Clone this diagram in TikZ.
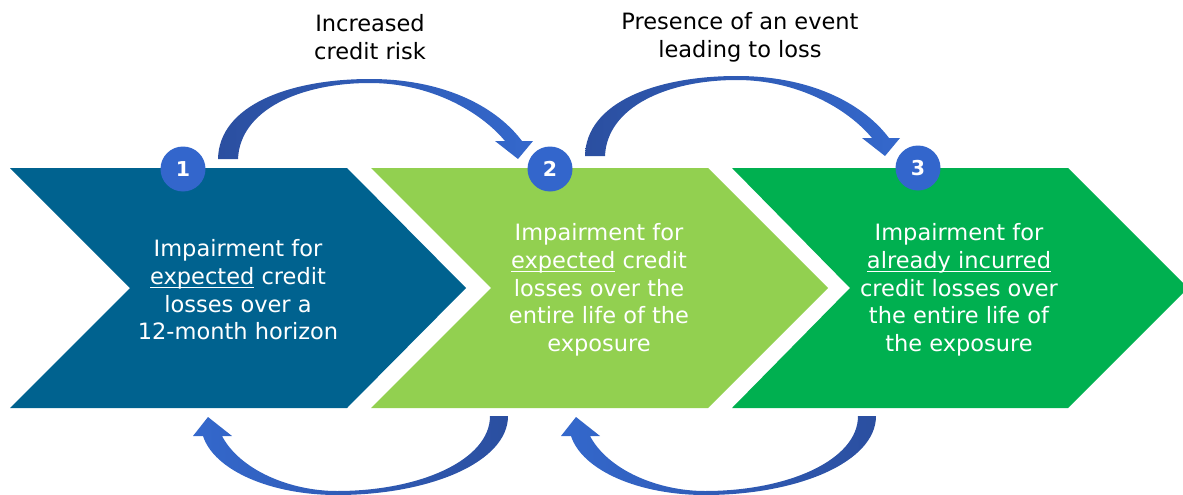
\documentclass[tikz,border=0pt]{standalone}
\usepackage{fontspec}
\setmainfont{DejaVu Sans}
\definecolor{cBlue}{HTML}{00628F}
\definecolor{cLime}{HTML}{92D050}
\definecolor{cGreen}{HTML}{00B050}
\definecolor{cCirc}{HTML}{3366CC}
\definecolor{cArrDark}{HTML}{2B4FA0}
\definecolor{cArrLight}{HTML}{3468CC}
\newcommand\myul[1]{\setbox0\hbox{#1}\rlap{\rule[-3.6pt]{\wd0}{1.3pt}}\box0\relax}
\begin{document}
\begin{tikzpicture}[x=1pt,y=-1pt,
  txt/.style={align=center,text=white,inner sep=0pt,font=\fontsize{22.5}{27.7}\selectfont},
  lbl/.style={align=center,text=black,inner sep=0pt,font=\fontsize{22.5}{28}\selectfont},
  num/.style={circle,fill=cCirc,minimum size=45pt,inner sep=0pt,text=white,font=\fontsize{20.5}{24}\selectfont\bfseries},
  toparrow/.style={left color=cArrDark,right color=cArrLight},
  botarrow/.style={left color=cArrLight,right color=cArrDark}]
\useasboundingbox (0,0) rectangle (1183,495);
% chevrons
\fill[cBlue]  (10,168) -- (347,168) -- (466,288) -- (347,408) -- (10,408) -- (130,288) -- cycle;
\fill[cLime]  (371,168) -- (708,168) -- (828,288) -- (708,408) -- (371,408) -- (491,288) -- cycle;
\fill[cGreen] (732,168) -- (1068,168) -- (1188,288) -- (1068,408) -- (732,408) -- (850,288) -- cycle;
% texts
\node[txt] (t1) at (238,290) {Impairment for\\\myul{expected} credit\\losses over a\\12-month horizon};
\node[txt] (t2) at (599,290) {Impairment for\\\myul{expected} credit\\losses over the\\entire life of the\\exposure};
\node[txt] (t3) at (959,290) {Impairment for\\\myul{already incurred}\\credit losses over\\the entire life of\\the exposure};
% top labels
\node[lbl] (l1) at (370,37) {Increased\\credit risk};
\node[lbl] (l2) at (740,37) {Presence of an event\\leading to loss};
% top arrows
\foreach \dx/\dy in {0/0,367/-3}{
\begin{scope}[shift={(\dx,\dy)}]
\shade[toparrow] (218,159) .. controls (219,105) and (290,79) .. (370,79)
  .. controls (440,79) and (494,104) .. (522,141) -- (533,141) -- (518,159) -- (495,141) -- (505,141)
  .. controls (480,111) and (430,83) .. (370,83)
  .. controls (300,83) and (240,110) .. (238,159) -- cycle;
\end{scope}}
% bottom arrows
\foreach \dx in {0,368}{
\begin{scope}[shift={(\dx,0)}]
\shade[botarrow] (508,416) .. controls (508,462) and (430,495) .. (337,495)
  .. controls (270,495) and (214,470) .. (203,436) -- (193,436) -- (208,417) -- (232,436) -- (222,436)
  .. controls (240,470) and (290,491) .. (337,491)
  .. controls (420,491) and (490,460) .. (490,416) -- cycle;
\end{scope}}
% numbers
\node[num] (n1) at (183,169) {1};
\node[num] (n2) at (550,169) {2};
\node[num] (n3) at (918,168) {3};
\end{tikzpicture}
\end{document}
